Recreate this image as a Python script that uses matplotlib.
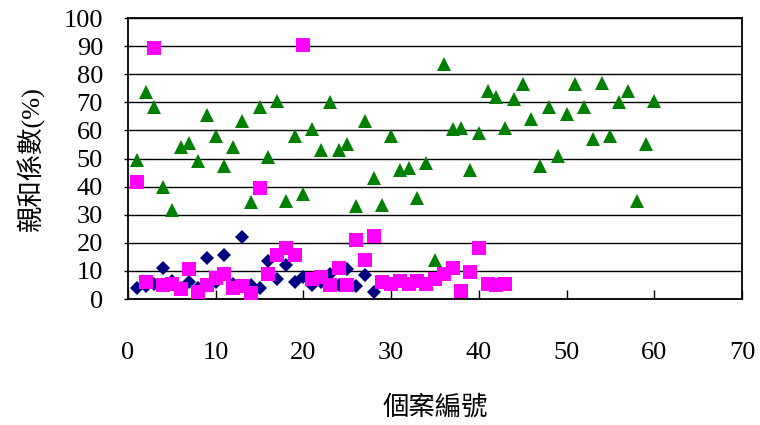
import numpy as np
import matplotlib
matplotlib.use("Agg")
import matplotlib.pyplot as plt

plt.rcParams['font.family'] = ['Liberation Serif', 'Noto Sans CJK TC']

# Serie 1: losangos azul-marinho (casos 1-28)
x_diamond = list(range(1, 29))
y_diamond = [4, 4.5, 5.5, 11, 6.5, 4, 6, 4, 14.5, 6, 15.5, 5.5, 22, 5,
             4, 13.5, 7, 12, 6, 8, 5, 6, 9, 5, 10.5, 4.5, 8.5, 2.5]

# Serie 2: quadrados magenta (casos 1-43)
x_square = list(range(1, 44))
y_square = [41.5, 6, 89.5, 5, 5.5, 3.5, 10.5, 2.5, 5, 7.5, 9, 4, 4.5, 2,
            39.5, 9, 15.5, 18, 15.5, 90.5, 7, 8, 5, 11, 5, 21, 14, 22.5,
            6, 5.5, 6.5, 5.5, 6.5, 5.5, 7, 9, 11, 3, 9.5, 18, 5.5, 5, 5.5]

# Serie 3: triangulos verdes (casos 1-60)
x_triangle = list(range(1, 61))
y_triangle = [49.5, 73.5, 68.5, 40, 31.5, 54, 55.5, 49, 65.5, 58,
              47.5, 54, 63.5, 34.5, 68.5, 50.5, 70.5, 35, 58, 37.5,
              60.5, 53, 70, 53, 55, 33, 63.5, 43, 33.5, 58,
              46, 46.5, 36, 48.5, 14, 83.5, 60.5, 61, 46, 59,
              74, 72, 61, 71, 76.5, 64, 47.5, 68.5, 51, 66,
              76.5, 68.5, 57, 77, 58, 70, 74, 35, 55, 70.5]

x_ticks = list(range(0, 71, 10))
y_ticks = list(range(0, 101, 10))

fig = plt.figure(figsize=(7.6, 4.25), dpi=100)
ax = fig.add_axes([128/760, 126/425, 614/760, 281/425])

ax.plot(x_diamond, y_diamond, linestyle='none', marker='D', ms=7.2,
        color='#000080', markeredgewidth=0, zorder=3)
ax.plot(x_square, y_square, linestyle='none', marker='s', ms=10,
        color='#FF00FF', markeredgewidth=0, zorder=4)
ax.plot(x_triangle, y_triangle, linestyle='none', marker='^', ms=10,
        color='#008000', markeredgewidth=0, zorder=5)

ax.set_xlim(0, 70)
ax.set_ylim(0, 100)
ax.set_xticks(x_ticks)
ax.set_yticks(y_ticks)
ax.yaxis.grid(True, color='black', lw=1.0)
ax.set_axisbelow(True)

for s in ax.spines.values():
    s.set_color('black')
    s.set_linewidth(1.3)

ax.tick_params(axis='x', direction='in', length=6.5, width=1, pad=31, labelsize=19)
ax.tick_params(axis='y', direction='out', length=3, width=1, pad=15, labelsize=19)

ax.set_xlabel('個案編號', fontsize=19, labelpad=22)
ax.set_ylabel('親和係數(%)', fontsize=19, labelpad=13)

fig.savefig('out.png', dpi=100)
